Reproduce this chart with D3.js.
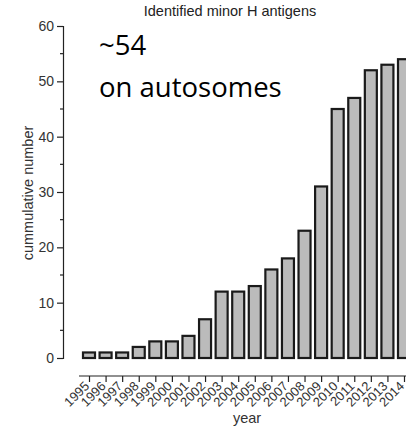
<!DOCTYPE html>
<html>
<head>
<meta charset="utf-8">
<script src="https://cdn.jsdelivr.net/npm/d3@7"></script>
<style>
  body { margin: 0; background: #fff; }
  svg { display: block; font-family: "Liberation Sans", Arial, sans-serif; }
</style>
</head>
<body>
<div id="chart"></div>
<script>
const years = ["1995","1996","1997","1998","1999","2000","2001","2002","2003","2004",
               "2005","2006","2007","2008","2009","2010","2011","2012","2013","2014"];
const counts = [1,1,1,2,3,3,4,7,12,12,13,16,18,23,31,45,47,52,53,54];
const yTicks = [0,10,20,30,40,50,60];
const yMinorTicks = [5,15,25,35,45,55];

const width = 406, height = 428;

const svg = d3.select("#chart").append("svg")
    .attr("width", width)
    .attr("height", height);

// scales
const x = d3.scalePoint().domain(years).range([89, 404]);
const y = d3.scaleLinear().domain([0, 60]).range([358, 26]);
const barW = 12;

// title
svg.append("text")
    .attr("x", 230).attr("y", 16)
    .attr("text-anchor", "middle")
    .style("font-size", "14.5px")
    .style("fill", "#222")
    .text("Identified minor H antigens");

// y axis
const yAxisG = svg.append("g")
    .attr("transform", "translate(63,0)")
    .call(d3.axisLeft(y).tickValues(yTicks).tickSize(6).tickPadding(3));
yAxisG.select(".domain").attr("stroke", "#222").attr("stroke-width", 1.2);
yAxisG.selectAll(".tick line").attr("stroke", "#222").attr("stroke-width", 1.2);
yAxisG.selectAll(".tick text")
    .style("font-size", "14px")
    .style("fill", "#333")
    .style("font-family", "Liberation Sans, Arial, sans-serif");

svg.append("g")
    .attr("transform", "translate(63,0)")
    .selectAll("line")
    .data(yMinorTicks)
    .join("line")
    .attr("x1", -3).attr("x2", 0)
    .attr("y1", d => y(d)).attr("y2", d => y(d))
    .attr("stroke", "#222").attr("stroke-width", 1.2);

svg.append("text")
    .attr("transform", "translate(33,193) rotate(-90)")
    .attr("text-anchor", "middle")
    .style("font-size", "14.5px")
    .style("fill", "#333")
    .text("cummulative number");

// bars
svg.selectAll(".bar")
    .data(years.map((yr, i) => ({year: yr, value: counts[i]})))
    .join("rect")
    .attr("class", "bar")
    .attr("x", d => x(d.year) - barW / 2)
    .attr("y", d => y(d.value))
    .attr("width", barW)
    .attr("height", d => y(0) - y(d.value))
    .attr("fill", "#bbbbbb")
    .attr("stroke", "#1a1a1a")
    .attr("stroke-width", 2.2);

// x axis (offset below the bars)
const xAxisG = svg.append("g")
    .attr("transform", "translate(0,376)")
    .call(d3.axisBottom(x).tickSize(6).tickFormat(""));
xAxisG.select(".domain")
    .attr("d", "M79,0H406")
    .attr("stroke", "#222").attr("stroke-width", 1.2);
xAxisG.selectAll(".tick line").attr("stroke", "#222").attr("stroke-width", 1.2);

svg.append("g")
    .selectAll("text")
    .data(years)
    .join("text")
    .attr("transform", d => `translate(${x(d) + 1},387) rotate(-45)`)
    .attr("text-anchor", "end")
    .style("font-size", "13px")
    .style("fill", "#333")
    .text(d => d);

svg.append("text")
    .attr("x", 247).attr("y", 423)
    .attr("text-anchor", "middle")
    .style("font-size", "14.5px")
    .style("fill", "#333")
    .text("year");

// annotation
const note = svg.append("g").style("font-family", "'Open Sans', 'Noto Sans', sans-serif")
    .style("font-size", "27.5px").style("fill", "#000");
note.append("text").attr("x", 99).attr("y", 55).text("~54");
note.append("text").attr("x", 99).attr("y", 97).text("on autosomes");
</script>
</body>
</html>
